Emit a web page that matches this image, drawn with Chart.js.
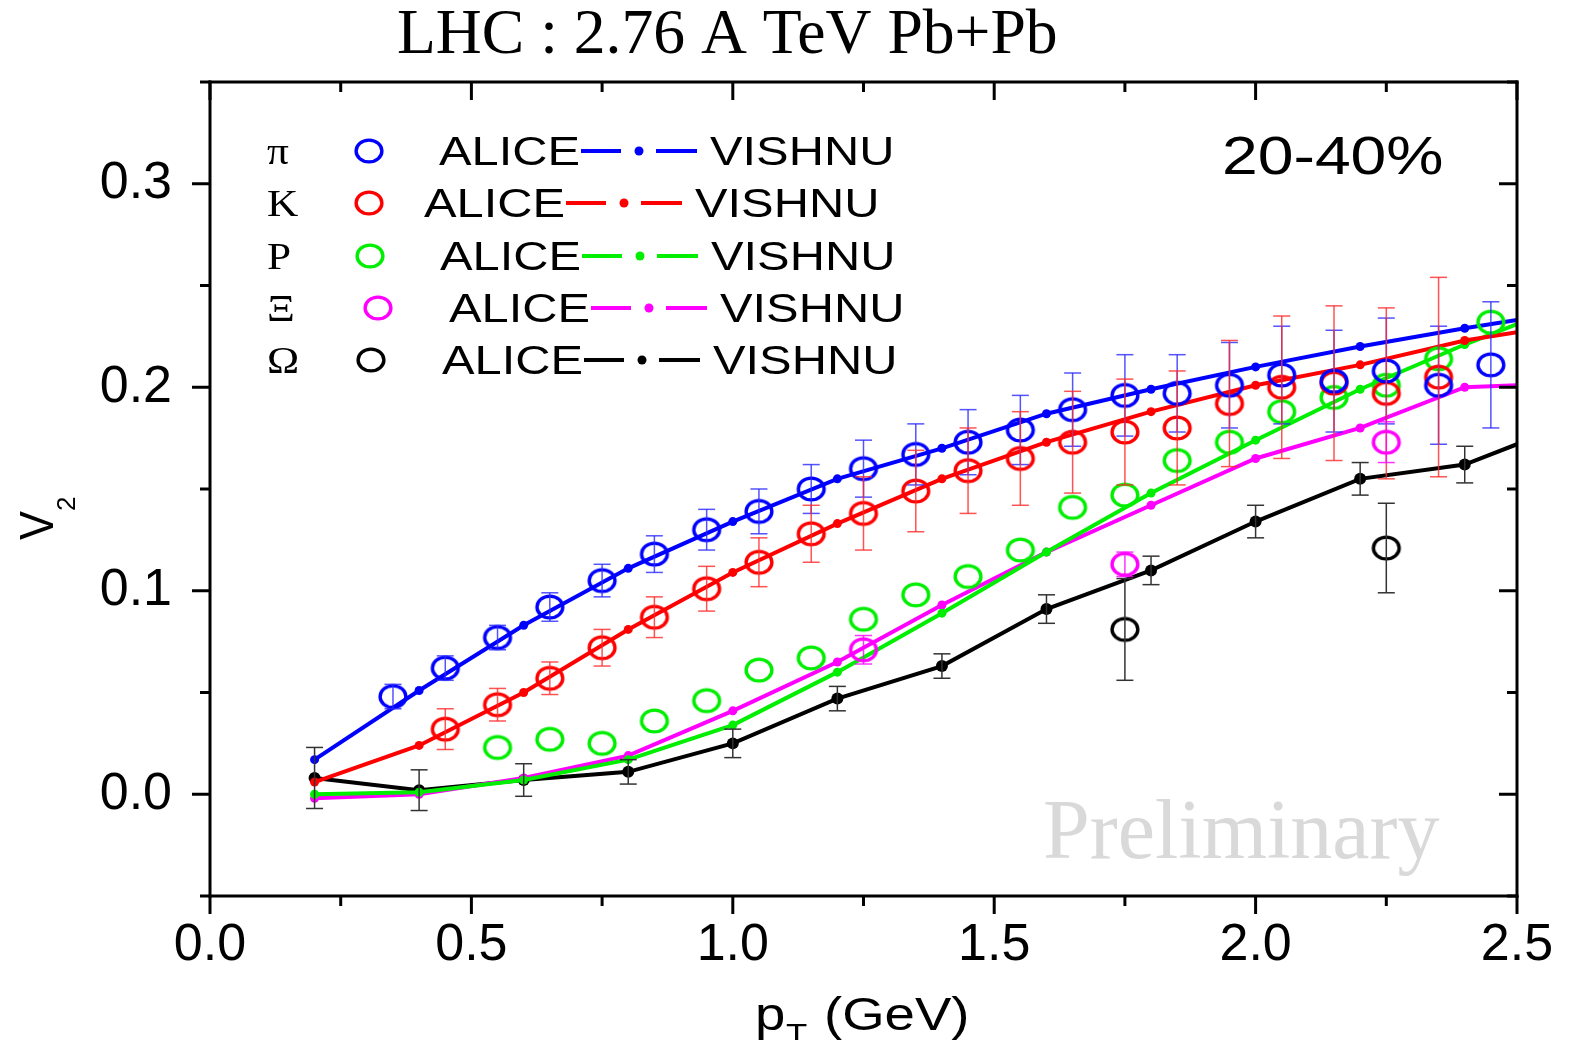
<!DOCTYPE html>
<html>
<head>
<meta charset="utf-8">
<title>v2 - LHC Pb+Pb</title>
<script src="https://cdn.jsdelivr.net/npm/chart.js@4"></script>
<style>
    html, body { margin: 0; padding: 0; background: #fff; }
</style>
</head>
<body>
<canvas id="v2Chart" width="1570" height="1040"></canvas>
<script>
// ALICE data points (open circles)
const pionPt = [0.35, 0.45, 0.55, 0.65, 0.75, 0.85, 0.95, 1.05, 1.15, 1.25, 1.35, 1.45, 1.55, 1.65, 1.75, 1.85, 1.95, 2.05, 2.15, 2.25, 2.35, 2.45];
const pionV2 = [0.048, 0.062, 0.077, 0.092, 0.105, 0.118, 0.130, 0.139, 0.150, 0.160, 0.167, 0.173, 0.179, 0.189, 0.196, 0.197, 0.201, 0.206, 0.203, 0.208, 0.201, 0.211];
const pionErr = [0.006, 0.006, 0.006, 0.007, 0.008, 0.009, 0.010, 0.011, 0.012, 0.014, 0.015, 0.016, 0.017, 0.018, 0.020, 0.019, 0.021, 0.024, 0.025, 0.026, 0.029, 0.031];

const kaonPt = [0.45, 0.55, 0.65, 0.75, 0.85, 0.95, 1.05, 1.15, 1.25, 1.35, 1.45, 1.55, 1.65, 1.75, 1.85, 1.95, 2.05, 2.15, 2.25, 2.35];
const kaonV2 = [0.032, 0.044, 0.057, 0.072, 0.087, 0.101, 0.114, 0.128, 0.138, 0.149, 0.159, 0.165, 0.173, 0.178, 0.180, 0.192, 0.200, 0.202, 0.197, 0.205];
const kaonErr = [0.010, 0.008, 0.008, 0.009, 0.010, 0.011, 0.012, 0.014, 0.018, 0.020, 0.021, 0.023, 0.025, 0.026, 0.028, 0.031, 0.035, 0.038, 0.042, 0.049];

const protonPt = [0.55, 0.65, 0.75, 0.85, 0.95, 1.05, 1.15, 1.25, 1.35, 1.45, 1.55, 1.65, 1.75, 1.85, 1.95, 2.05, 2.15, 2.25, 2.35, 2.45];
const protonV2 = [0.023, 0.027, 0.025, 0.036, 0.046, 0.061, 0.067, 0.086, 0.098, 0.107, 0.120, 0.141, 0.147, 0.164, 0.173, 0.188, 0.195, 0.201, 0.214, 0.232];

const xiPt = [1.25, 1.75, 2.25];
const xiV2 = [0.071, 0.113, 0.173];
const xiErr = [0.007, 0.006, 0.010];

const omegaPt = [1.75, 2.25];
const omegaV2 = [0.081, 0.121];
const omegaErr = [0.025, 0.022];

// VISHNU curves
const vishnuPt = [0.2, 0.4, 0.6, 0.8, 1.0, 1.2, 1.4, 1.6, 1.8, 2.0, 2.2, 2.4, 2.5];
const vishnuPion = [0.017, 0.051, 0.083, 0.111, 0.134, 0.155, 0.170, 0.187, 0.199, 0.210, 0.220, 0.229, 0.233];
const vishnuKaon = [0.006, 0.024, 0.050, 0.081, 0.109, 0.133, 0.155, 0.173, 0.188, 0.201, 0.211, 0.223, 0.227];
const vishnuProton = [0.000, 0.001, 0.007, 0.017, 0.034, 0.060, 0.089, 0.119, 0.148, 0.174, 0.199, 0.221, 0.231];
const vishnuXi = [-0.002, 0.000, 0.008, 0.019, 0.041, 0.065, 0.093, 0.119, 0.142, 0.165, 0.180, 0.200, 0.201];
const vishnuOmega = [0.008, 0.002, 0.007, 0.011, 0.025, 0.047, 0.063, 0.091, 0.110, 0.134, 0.155, 0.162, 0.172];
const vishnuOmegaErr = [0.015, 0.010, 0.008, 0.006, 0.007, 0.006, 0.006, 0.007, 0.007, 0.008, 0.008, 0.009];

const xTicks = [0.0, 0.5, 1.0, 1.5, 2.0, 2.5];
const yTicks = [0.0, 0.1, 0.2, 0.3];

const legendSymbols = ['π', 'K', 'P', 'Ξ', 'Ω'];
const speciesColors = ['#0000ff', '#ff0000', '#00ee00', '#ff00ff', '#000000'];

const SANS = '"Liberation Sans", Arial, sans-serif';
const SERIF = '"Liberation Serif", "Times New Roman", serif';

const pts = (xs, ys) => xs.map((x, i) => ({x: x, y: ys[i]}));

// open ellipse marker (the figure is slightly stretched horizontally)
function ring(color) {
    const c = document.createElement('canvas');
    c.width = 34; c.height = 30;
    const g = c.getContext('2d');
    g.strokeStyle = color;
    g.lineWidth = 3.4;
    g.beginPath();
    g.ellipse(17, 15, 12.9, 10.9, 0, 0, Math.PI * 2);
    g.stroke();
    return c;
}

function alice(data, color, errors, errColor) {
    return {
        data: data, showLine: false, pointStyle: ring(color), pointRadius: 13,
        errors: errors, errColor: errColor
    };
}

function vishnu(values, color, errors, dot) {
    return {
        data: pts(vishnuPt, values), showLine: true, borderColor: color, borderWidth: 4,
        pointBackgroundColor: color, pointBorderWidth: 0, tension: 0,
        pointRadius: ctx => (ctx.raw && ctx.raw.x > 2.45) ? 0 : dot,
        errors: errors, errColor: '#333'
    };
}

function stretchText(ctx, txt, x, y, font, sx, color) {
    ctx.save();
    ctx.translate(x, y);
    ctx.scale(sx, 1);
    ctx.font = font;
    ctx.fillStyle = color || '#000';
    ctx.textAlign = 'left';
    ctx.textBaseline = 'alphabetic';
    ctx.fillText(txt, 0, 0);
    ctx.restore();
}

function seg(ctx, x1, y1, x2, y2) {
    ctx.beginPath();
    ctx.moveTo(x1, y1);
    ctx.lineTo(x2, y2);
    ctx.stroke();
}

// error bars for datasets carrying an "errors" array
const errorBars = {
    id: 'errorBars',
    afterDatasetsDraw(chart) {
        const ctx = chart.ctx;
        const ys = chart.scales.y;
        chart.data.datasets.forEach((ds, i) => {
            if (!ds.errors) return;
            const meta = chart.getDatasetMeta(i);
            ctx.save();
            ctx.strokeStyle = ds.errColor;
            ctx.lineWidth = 1.5;
            meta.data.forEach((p, j) => {
                const e = ds.errors[j];
                if (!e) return;
                const v = ds.data[j].y;
                const y1 = ys.getPixelForValue(v + e);
                const y2 = ys.getPixelForValue(v - e);
                seg(ctx, p.x, y1, p.x, y2);
                seg(ctx, p.x - 8.5, y1, p.x + 8.5, y1);
                seg(ctx, p.x - 8.5, y2, p.x + 8.5, y2);
            });
            ctx.restore();
        });
    }
};

// frame, tick marks, titles, legend, labels
const decorations = {
    id: 'decorations',
    beforeDatasetsDraw(chart) {
        stretchText(chart.ctx, 'Preliminary', 1043, 858, '84px ' + SERIF, 1, '#d9d9d9');
    },
    afterDraw(chart) {
        const ctx = chart.ctx;
        const a = chart.chartArea;
        const xs = chart.scales.x, ys = chart.scales.y;
        ctx.save();
        ctx.strokeStyle = '#000';
        ctx.lineWidth = 3;
        ctx.lineCap = 'square';
        seg(ctx, a.left, a.top, a.right, a.top);
        seg(ctx, a.left, a.bottom, a.right, a.bottom);
        seg(ctx, a.left, a.top, a.left, a.bottom);
        seg(ctx, a.right, a.top, a.right, a.bottom);
        ctx.lineCap = 'butt';
        for (let i = 0; i <= 10; i++) {
            const v = i * 0.25;
            const px = xs.getPixelForValue(v);
            const len = (i % 2 === 0) ? 18 : 10;
            seg(ctx, px, a.bottom, px, a.bottom + len);
            seg(ctx, px, a.top, px, a.top + len);
        }
        for (let i = 0; i <= 8; i++) {
            const v = -0.05 + i * 0.05;
            const py = ys.getPixelForValue(v);
            const len = (i % 2 === 1) ? 18 : 10;
            seg(ctx, a.left - len, py, a.left, py);
            seg(ctx, a.right - len, py, a.right, py);
        }
        ctx.restore();

        // title and centrality
        stretchText(ctx, 'LHC : 2.76 A TeV Pb+Pb', 397, 53, '63px ' + SERIF, 1.01);
        stretchText(ctx, '20-40%', 1222, 174, '54px ' + SANS, 1.19);

        // x axis title p_T (GeV)
        stretchText(ctx, 'p', 755, 1030, '47px ' + SANS, 1.16);
        stretchText(ctx, 'T', 786, 1044, '30px ' + SANS, 1.16);
        stretchText(ctx, '(GeV)', 824, 1030, '47px ' + SANS, 1.16);

        // y axis title V_2
        ctx.save();
        ctx.translate(53, 540);
        ctx.rotate(-Math.PI / 2);
        ctx.scale(0.9, 1);
        ctx.font = '48px ' + SANS;
        ctx.fillStyle = '#000';
        ctx.fillText('V', 0, 0);
        ctx.restore();
        ctx.save();
        ctx.translate(75, 511);
        ctx.rotate(-Math.PI / 2);
        ctx.font = '26px ' + SANS;
        ctx.fillStyle = '#000';
        ctx.fillText('2', 0, 0);
        ctx.restore();

        // legend
        const rowY = [151, 203, 256, 308, 360];
        const circleX = [369, 369, 370, 378, 371];
        const aliceX = [439, 424, 440, 449, 442];
        legendSymbols.forEach((s, r) => {
            const y = rowY[r], c = speciesColors[r], ax = aliceX[r];
            stretchText(ctx, s, 267, y + 13, '38px ' + SERIF, 1.14);
            ctx.save();
            ctx.strokeStyle = c;
            ctx.fillStyle = c;
            ctx.lineWidth = 3.4;
            ctx.beginPath();
            ctx.ellipse(circleX[r], y, 12.9, 10.9, 0, 0, Math.PI * 2);
            ctx.stroke();
            ctx.lineWidth = 4;
            seg(ctx, ax + 142, y, ax + 182, y);
            seg(ctx, ax + 217, y, ax + 258, y);
            ctx.beginPath();
            ctx.arc(ax + 200, y, 4.5, 0, Math.PI * 2);
            ctx.fill();
            ctx.restore();
            stretchText(ctx, 'ALICE', ax, y + 14, '40px ' + SANS, 1.22);
            stretchText(ctx, 'VISHNU', ax + 271, y + 14, '40px ' + SANS, 1.22);
        });
    }
};

const tickFont = {family: SANS, size: 52};

new Chart(document.getElementById('v2Chart').getContext('2d'), {
    type: 'scatter',
    data: {
        datasets: [
            alice(pts(pionPt, pionV2), speciesColors[0], pionErr, 'rgba(40,40,255,0.8)'),
            alice(pts(kaonPt, kaonV2), speciesColors[1], kaonErr, 'rgba(255,40,40,0.8)'),
            alice(pts(protonPt, protonV2), speciesColors[2], null, null),
            alice(pts(xiPt, xiV2), speciesColors[3], xiErr, 'rgba(255,0,255,0.8)'),
            alice(pts(omegaPt, omegaV2), speciesColors[4], omegaErr, '#333'),
            vishnu(vishnuPion, speciesColors[0], null, 4.5),
            vishnu(vishnuKaon, speciesColors[1], null, 4.5),
            vishnu(vishnuProton, speciesColors[2], null, 4.5),
            vishnu(vishnuXi, speciesColors[3], null, 4.5),
            vishnu(vishnuOmega, speciesColors[4], vishnuOmegaErr, 6)
        ]
    },
    options: {
        responsive: false,
        animation: false,
        devicePixelRatio: 1,
        layout: {padding: {left: 0, right: 53, top: 82, bottom: 0}},
        plugins: {legend: {display: false}, tooltip: {enabled: false}},
        scales: {
            x: {
                type: 'linear', min: 0, max: 2.5,
                afterBuildTicks: s => { s.ticks = xTicks.map(v => ({value: v})); },
                afterFit: s => { s.height = 144; s.paddingLeft = 0; s.paddingRight = 0; },
                grid: {display: false, drawTicks: false},
                border: {display: false},
                ticks: {font: tickFont, color: '#000', padding: 18, maxRotation: 0, autoSkip: false,
                        callback: v => Number(v).toFixed(1)}
            },
            y: {
                type: 'linear', min: -0.05, max: 0.35,
                afterBuildTicks: s => { s.ticks = yTicks.map(v => ({value: v})); },
                afterFit: s => { s.width = 210; s.paddingTop = 0; s.paddingBottom = 0; },
                grid: {display: false, drawTicks: false},
                border: {display: false},
                ticks: {font: tickFont, color: '#000', padding: 38, autoSkip: false,
                        callback: v => Number(v).toFixed(1)}
            }
        }
    },
    plugins: [errorBars, decorations]
});
</script>
</body>
</html>
